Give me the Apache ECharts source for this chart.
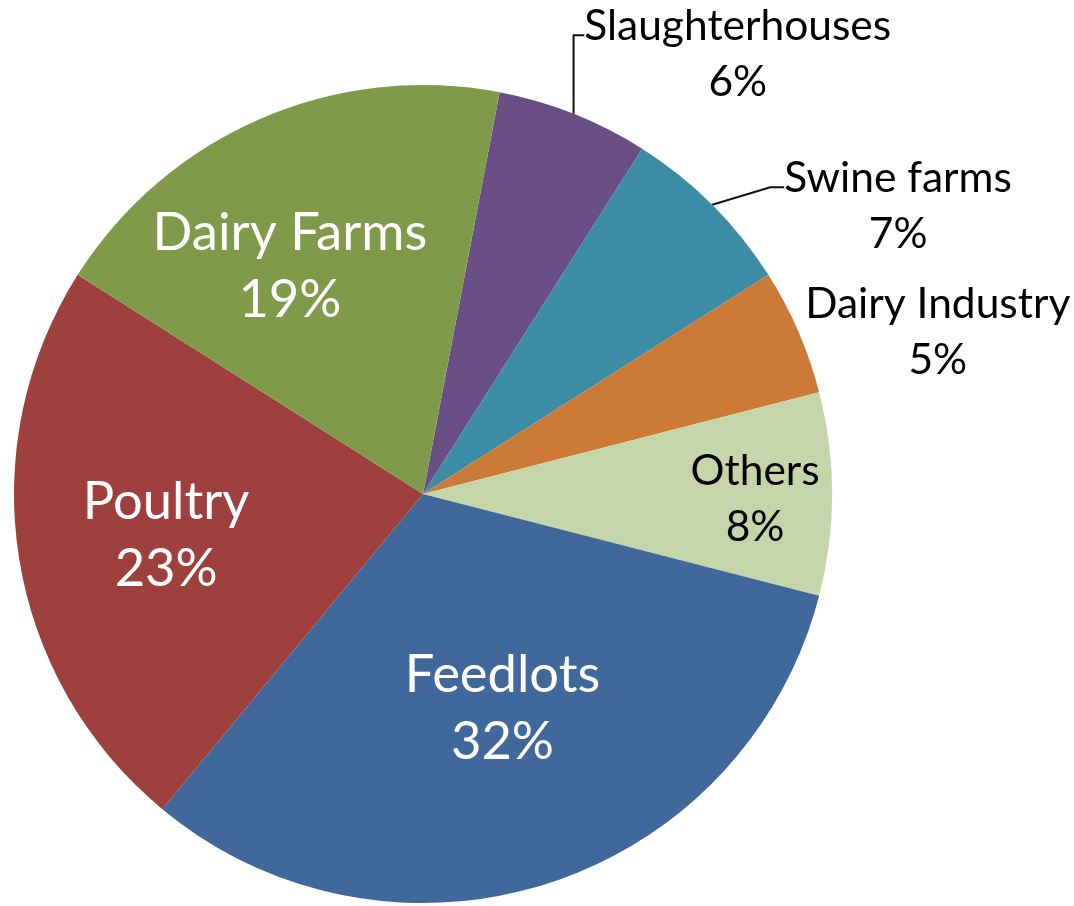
<!DOCTYPE html>
<html>
<head>
<meta charset="utf-8">
<title>Sources by sector</title>
<script src="https://cdn.jsdelivr.net/npm/echarts@6/dist/echarts.min.js"></script>
<style>
  html, body { margin: 0; padding: 0; background: #ffffff; }
  #chart { width: 1074px; height: 906px; }
</style>
</head>
<body>
<div id="chart"></div>
<script>
// Sectors in clockwise order, starting just right of 12 o'clock
const categories = ['Slaughterhouses', 'Swine farms', 'Dairy Industry', 'Others', 'Feedlots', 'Poultry', 'Dairy Farms'];
const shares = [6, 7, 5, 8, 32, 23, 19];
const sliceColors = ['#6A4F86', '#3C8CA5', '#CB7A37', '#C4D6A9', '#41689B', '#9E413E', '#7F9A48'];

// Pie geometry
const CX = 423, CY = 494, R = 409;
const START_DEG = 10.8;           // first slice edge, degrees clockwise from 12 o'clock

// Label anchors in polar form: [degrees clockwise from top, fraction of radius, leader style]
const labelPlace = [
  [35.6, 1.322, 'up'],
  [58.8, 1.358, 'elbow'],
  [72.6, 1.319, null],
  [91.0, 0.812, null],
  [159.7, 0.560, null],
  [260.9, 0.636, null],
  [329.7, 0.645, null]
];
const outsideLabel = [true, true, true, false, false, false, false];
const lightText = [false, false, false, false, true, true, true];

const total = shares.reduce((a, b) => a + b, 0);
function midAngle(i) {
  let before = 0;
  for (let k = 0; k < i; k++) before += shares[k];
  return START_DEG + 360 * (before + shares[i] / 2) / total;
}
function polar(deg, r) {
  const a = deg * Math.PI / 180;
  return [CX + r * Math.sin(a), CY - r * Math.cos(a)];
}

const FONT = 'Lato';
const data = categories.map((name, i) => ({
  name: name,
  value: shares[i],
  itemStyle: { color: sliceColors[i] },
  label: {
    position: outsideLabel[i] ? 'outside' : 'inside',
    color: lightText[i] ? '#ffffff' : '#000000',
    fontSize: lightText[i] ? 52.5 : 42.5,
    lineHeight: lightText[i] ? 67 : 56
  },
  labelLine: {
    show: labelPlace[i][2] !== null,
    lineStyle: { color: '#111111', width: 2 }
  }
}));

const chart = echarts.init(document.getElementById('chart'), null, { renderer: 'canvas' });
chart.setOption({
  animation: false,
  backgroundColor: '#ffffff',
  series: [{
    type: 'pie',
    center: [CX, CY],
    radius: R,
    startAngle: 90 - START_DEG,
    clockwise: true,
    avoidLabelOverlap: false,
    silent: true,
    data: data,
    itemStyle: { borderWidth: 0 },
    label: {
      show: true,
      fontFamily: FONT,
      fontWeight: 'normal',
      align: 'center',
      formatter: '{b}\n{c}%'
    },
    labelLine: { show: false, smooth: false, length: 10, length2: 10 },
    labelLayout: function (p) {
      const i = p.dataIndex;
      const place = labelPlace[i];
      const pos = polar(place[0], place[1] * R);
      const w = p.labelRect.width, h = p.labelRect.height;
      const out = { x: pos[0], y: pos[1], align: 'center', verticalAlign: 'middle' };
      if (place[2]) {
        const arc = polar(midAngle(i), R);
        const left = pos[0] - w / 2;
        const ly = pos[1] - h / 2 + 0.33 * h;
        if (place[2] === 'up') {
          out.labelLinePoints = [arc, [arc[0], ly], [left, ly]];
        } else {
          out.labelLinePoints = [arc, [left - 14, ly], [left, ly]];
        }
      }
      return out;
    }
  }]
});
</script>
</body>
</html>
